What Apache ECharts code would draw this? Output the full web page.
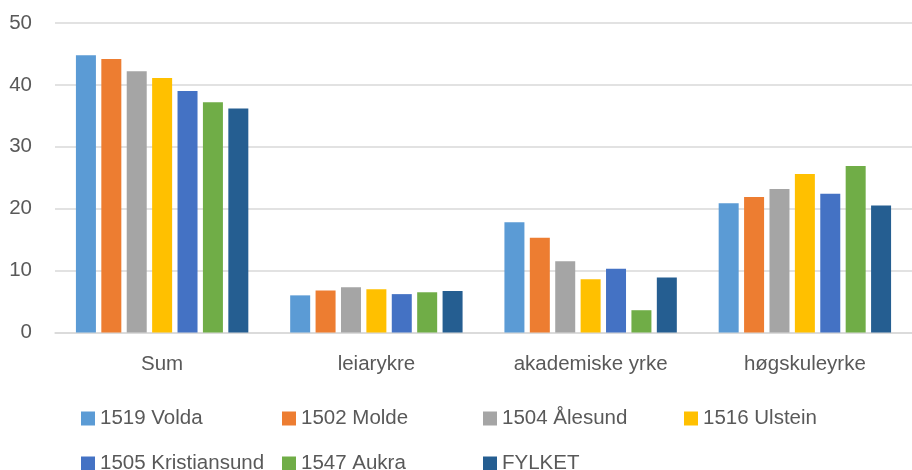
<!DOCTYPE html>
<html>
<head>
<meta charset="utf-8">
<script src="https://cdn.jsdelivr.net/npm/echarts@6/dist/echarts.min.js"></script>
<style>
  html, body { margin: 0; padding: 0; background: #fff; }
  #chart { width: 912px; height: 470px; }
</style>
</head>
<body>
<div id="chart"></div>
<script>
const categories = ["Sum", "leiarykre", "akademiske yrke", "høgskuleyrke"];
const seriesNames = ["1519 Volda", "1502 Molde", "1504 Ålesund", "1516 Ulstein", "1505 Kristiansund", "1547 Aukra", "FYLKET"];
const volda = [44.8, 6.0, 17.8, 20.9];
const molde = [44.2, 6.8, 15.3, 21.9];
const alesund = [42.2, 7.3, 11.5, 23.2];
const ulstein = [41.1, 7.0, 8.6, 25.6];
const kristiansund = [39.0, 6.2, 10.3, 22.4];
const aukra = [37.2, 6.5, 3.6, 26.9];
const fylket = [36.2, 6.7, 8.9, 20.5];
const colors = ["#5B9BD5", "#ED7D31", "#A5A5A5", "#FFC000", "#4472C4", "#70AD47", "#255E91"];

const values = [volda, molde, alesund, ulstein, kristiansund, aukra, fylket];
const font = "'Liberation Sans', Arial, sans-serif";
const textColor = "#595959";

const chart = echarts.init(document.getElementById("chart"));
chart.setOption({
  animation: false,
  color: colors,
  grid: { left: 55, top: 23, width: 866, bottom: 137.5, containLabel: false },
  legend: {
    left: 76,
    top: 396,
    width: 820,
    icon: "rect",
    itemWidth: 14,
    itemHeight: 14,
    itemGap: 10,
    textStyle: {
      color: textColor,
      fontFamily: font,
      fontSize: 20.5,
      width: 172,
      lineHeight: 35,
      overflow: "none"
    },
    data: seriesNames
  },
  xAxis: {
    type: "category",
    data: categories,
    axisTick: { show: false },
    axisLine: { lineStyle: { color: "#D9D9D9", width: 1.5 } },
    axisLabel: { color: textColor, fontFamily: font, fontSize: 20.5, margin: 21 }
  },
  yAxis: {
    type: "value",
    min: 0,
    max: 50,
    interval: 10,
    axisLine: { show: false },
    axisTick: { show: false },
    axisLabel: { color: textColor, fontFamily: font, fontSize: 20.5, margin: 23 },
    splitLine: { lineStyle: { color: "#D9D9D9", width: 1.5 } }
  },
  series: seriesNames.map((name, i) => ({
    name,
    type: "bar",
    data: values[i],
    barWidth: 20,
    barGap: "27%",
    itemStyle: { color: colors[i] }
  }))
});
</script>
</body>
</html>
